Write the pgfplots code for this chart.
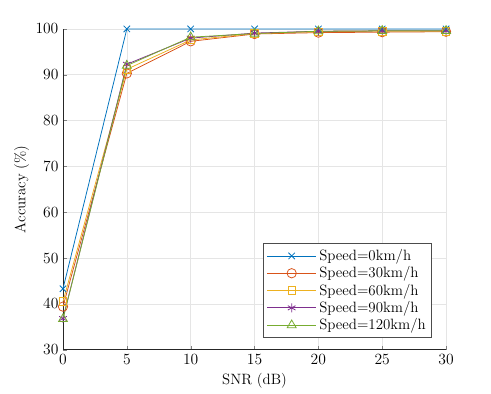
\documentclass[border=0pt]{standalone}
\usepackage{pgfplots}
\pgfplotsset{compat=1.18}
\definecolor{mblue}{RGB}{0,114,189}
\definecolor{morange}{RGB}{217,83,25}
\definecolor{myellow}{RGB}{237,177,32}
\definecolor{mpurple}{RGB}{126,47,142}
\definecolor{mgreen}{RGB}{119,172,48}

\begin{document}
\begin{tikzpicture}
\begin{axis}[
  name=ax,
  scale only axis,
  width=295pt, height=247pt,
  xmin=0, xmax=30, ymin=30, ymax=100,
  xtick={0,5,...,30}, ytick={30,40,...,100},
  axis x line*=bottom, axis y line*=left,
  tick align=inside,
  major tick length=3pt,
  xmajorgrids, ymajorgrids,
  grid style={gray!20, line width=0.5pt},
  axis line style={black!85, line width=0.5pt},
  tick label style={font=\fontsize{11.5}{13}\selectfont},
  label style={font=\fontsize{11.5}{13}\selectfont},
  xlabel={SNR (dB)}, ylabel={Accuracy (\%)},
  ylabel style={yshift=-2pt},
  legend style={at={(0.963,0.037)}, anchor=south east, draw=black!70,
    font=\fontsize{11.5}{12}\selectfont, row sep=-0.8pt, inner sep=2.5pt},
  legend cell align=left,
  legend image code/.code={
    \draw[mark repeat=2,mark phase=2] plot coordinates {(0pt,0pt) (19pt,0pt) (38pt,0pt)};},
  every axis plot/.append style={line width=0.6pt},
]
\addplot[mblue, mark=x, mark size=3.5pt] coordinates {
  (0,43.3) (5,100) (10,100) (15,100) (20,100) (25,100) (30,100)};
\addplot[morange, mark=o, mark size=3.6pt] coordinates {
  (0,39.4) (5,90.3) (10,97.3) (15,98.9) (20,99.2) (25,99.3) (30,99.4)};
\addplot[myellow, mark=square, mark size=2.9pt] coordinates {
  (0,40.5) (5,91.2) (10,97.6) (15,99.0) (20,99.4) (25,99.5) (30,99.5)};
\addplot[mpurple, mark=asterisk, mark size=3.4pt] coordinates {
  (0,36.8) (5,92.3) (10,98.0) (15,99.1) (20,99.5) (25,99.6) (30,99.6)};
\addplot[mgreen, mark=triangle, mark size=4pt] coordinates {
  (0,36.7) (5,92.0) (10,98.2) (15,99.0) (20,99.5) (25,99.6) (30,99.6)};
\legend{Speed=0km/h, Speed=30km/h, Speed=60km/h, Speed=90km/h, Speed=120km/h}
\end{axis}
\pgfresetboundingbox
\path (ax.south west) ++(-48.5pt,-33.8pt) coordinate (bl);
\path (ax.north east) ++(34.6pt,22.3pt) coordinate (tr);
\path[use as bounding box] (bl) rectangle (tr);
\end{tikzpicture}
\end{document}
